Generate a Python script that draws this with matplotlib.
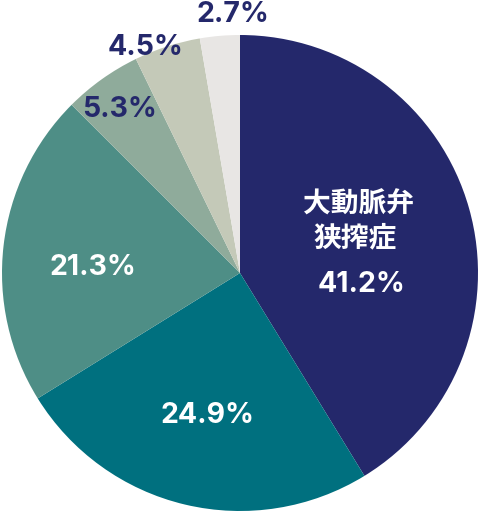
import numpy as np
import matplotlib.pyplot as plt

plt.rcParams["font.family"] = ["Noto Sans CJK JP", "DejaVu Sans"]

values = [41.2, 24.9, 21.3, 5.3, 4.5, 2.7]
pct_text = ["41.2%", "24.9%", "21.3%", "5.3%", "4.5%", "2.7%"]
title_lines = ["大動脈弁", "狭搾症"]
colors = ["#24286b", "#00707f", "#4e8e86", "#8fab9b", "#c4c9b8", "#e8e6e4"]
text_colors = ["white", "white", "white", "#24286b", "#24286b", "#24286b"]
# label placement (baseline centre): (radius factor, angle tweak from slice middle, degrees)
label_pos = [(0.519, -24.7), (0.645, 1.3), (0.618, 7.4), (0.829, 2.3), (0.997, 5.5), (1.055, -3.3)]

W, H = 480, 515
R_PX = 238
CX, CY = 240, 273

fig = plt.figure(figsize=(W / 100, H / 100), dpi=100)
ax = fig.add_axes([0, 0, 1, 1])
ax.pie(values, colors=colors, startangle=90, counterclock=False, radius=1,
       wedgeprops={"linewidth": 0})
ax.set_xlim(-CX / R_PX, (W - CX) / R_PX)
ax.set_ylim(-(H - CY) / R_PX, CY / R_PX)
ax.set_aspect("auto")
ax.axis("off")

pct_font = {"family": ["Inter", "DejaVu Sans"], "fontsize": 20.5, "fontweight": "bold"}

total = sum(values)
start = 90.0
for i, v in enumerate(values):
    sweep = 360 * v / total
    mid = start - sweep / 2
    start -= sweep
    r, tweak = label_pos[i]
    a = np.deg2rad(mid + tweak)
    x, y = r * np.cos(a), r * np.sin(a)
    ax.text(x, y, pct_text[i], ha="center", va="baseline", color=text_colors[i], **pct_font)
    if i == 0:
        ax.text(x - 0.013, y + 0.368, title_lines[0], ha="center", va="center",
                color=text_colors[i], fontsize=20, fontweight="bold")
        ax.text(x - 0.03, y + 0.225, title_lines[1], ha="center", va="center",
                color=text_colors[i], fontsize=20, fontweight="bold")

fig.savefig("out.png", dpi=100)
